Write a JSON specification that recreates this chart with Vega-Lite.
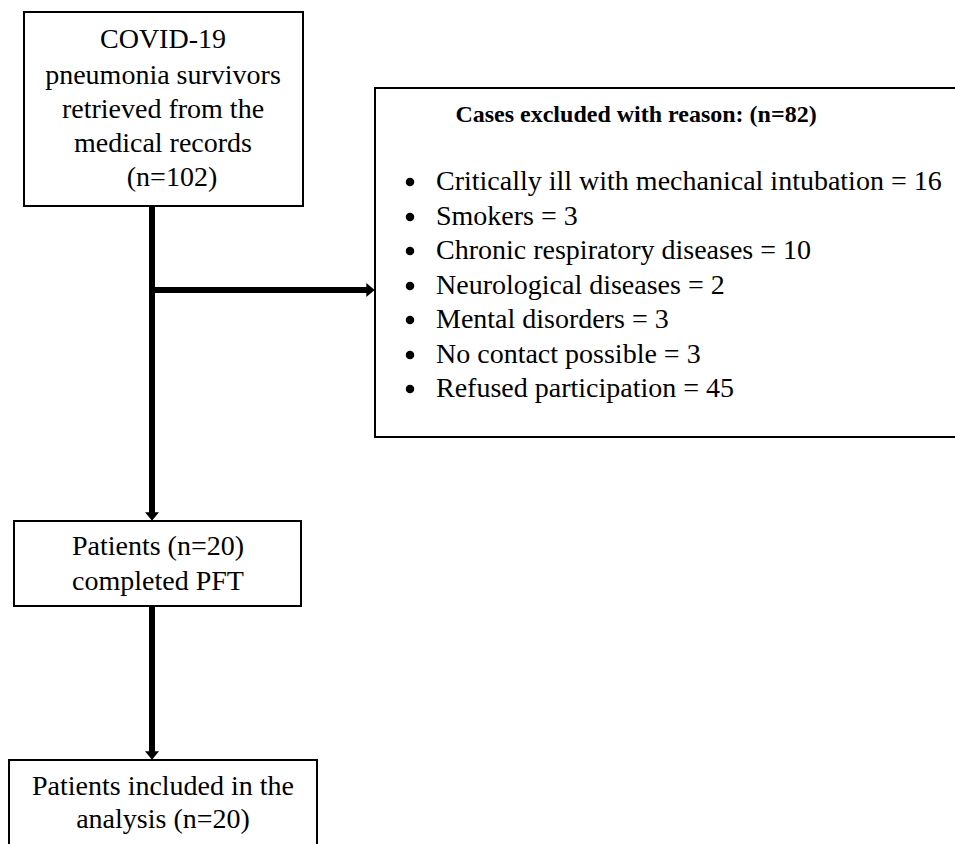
{
  "$schema": "https://vega.github.io/schema/vega-lite/v6.json",
  "width": 955,
  "height": 844,
  "padding": 0,
  "autosize": {"type": "fit", "contains": "padding"},
  "background": "white",
  "config": {"view": {"stroke": null}},
  "datasets": {
    "boxes": [
      {"id": "source", "x": 24, "x2": 303, "y": 12, "y2": 206},
      {"id": "excluded", "x": 375, "x2": 980, "y": 88, "y2": 437},
      {"id": "pft", "x": 14, "x2": 301, "y": 521, "y2": 606},
      {"id": "analysis", "x": 9, "x2": 317, "y": 760, "y2": 870}
    ],
    "lines": [
      {"x": 152, "y": 206, "x2": 152, "y2": 514},
      {"x": 152, "y": 290, "x2": 369, "y2": 290},
      {"x": 152, "y": 606, "x2": 152, "y2": 753}
    ],
    "heads_down": [
      {"x": 152, "y": 516.5},
      {"x": 152, "y": 755.5}
    ],
    "heads_right": [
      {"x": 370.5, "y": 290}
    ],
    "labels": [
      {"text": "COVID-19", "x": 163, "y": 40, "box": "source"},
      {"text": "pneumonia survivors", "x": 163, "y": 76, "box": "source"},
      {"text": "retrieved from the", "x": 163, "y": 110, "box": "source"},
      {"text": "medical records", "x": 163, "y": 144, "box": "source"},
      {"text": "(n=102)", "x": 172, "y": 178, "box": "source"},
      {"text": "Patients (n=20)", "x": 158, "y": 547, "box": "pft"},
      {"text": "completed PFT", "x": 158, "y": 582, "box": "pft"},
      {"text": "Patients included in the", "x": 163, "y": 787, "box": "analysis"},
      {"text": "analysis (n=20)", "x": 163, "y": 820, "box": "analysis"}
    ],
    "reasons": [
      {"text": "Critically ill with mechanical intubation = 16", "y": 182},
      {"text": "Smokers = 3", "y": 217},
      {"text": "Chronic respiratory diseases = 10", "y": 251},
      {"text": "Neurological diseases = 2", "y": 286},
      {"text": "Mental disorders = 3", "y": 320},
      {"text": "No contact possible = 3", "y": 355},
      {"text": "Refused participation = 45", "y": 389}
    ],
    "title": [
      {"text": "Cases excluded with reason: (n=82)", "x": 636, "y": 115}
    ]
  },
  "layer": [
    {
      "data": {"name": "boxes"},
      "mark": {"type": "rect", "fill": "white", "stroke": "black", "strokeWidth": 2, "clip": true},
      "encoding": {
        "x": {"field": "x", "type": "quantitative", "scale": {"domain": [0, 955], "nice": false, "zero": false}, "axis": null},
        "x2": {"field": "x2"},
        "y": {"field": "y", "type": "quantitative", "scale": {"domain": [0, 844], "nice": false, "zero": false, "reverse": true}, "axis": null},
        "y2": {"field": "y2"}
      }
    },
    {
      "data": {"name": "lines"},
      "mark": {"type": "rule", "color": "black", "strokeWidth": 6},
      "encoding": {
        "x": {"field": "x", "type": "quantitative"},
        "x2": {"field": "x2"},
        "y": {"field": "y", "type": "quantitative"},
        "y2": {"field": "y2"}
      }
    },
    {
      "data": {"name": "heads_down"},
      "mark": {"type": "point", "filled": true, "color": "black", "opacity": 1, "size": 196, "shape": "M -1 -0.6 L 1 -0.6 L 0 0.6 Z"},
      "encoding": {
        "x": {"field": "x", "type": "quantitative"},
        "y": {"field": "y", "type": "quantitative"}
      }
    },
    {
      "data": {"name": "heads_right"},
      "mark": {"type": "point", "filled": true, "color": "black", "opacity": 1, "size": 196, "shape": "M -0.6 -1 L 0.6 0 L -0.6 1 Z"},
      "encoding": {
        "x": {"field": "x", "type": "quantitative"},
        "y": {"field": "y", "type": "quantitative"}
      }
    },
    {
      "data": {"name": "labels"},
      "mark": {"type": "text", "font": "Liberation Serif", "fontSize": 28, "align": "center", "baseline": "middle", "color": "black"},
      "encoding": {
        "x": {"field": "x", "type": "quantitative"},
        "y": {"field": "y", "type": "quantitative"},
        "text": {"field": "text"}
      }
    },
    {
      "data": {"name": "title"},
      "mark": {"type": "text", "font": "Liberation Serif", "fontSize": 24, "fontWeight": "bold", "align": "center", "baseline": "middle", "color": "black"},
      "encoding": {
        "x": {"field": "x", "type": "quantitative"},
        "y": {"field": "y", "type": "quantitative"},
        "text": {"field": "text"}
      }
    },
    {
      "data": {"name": "reasons"},
      "mark": {"type": "text", "font": "Liberation Serif", "fontSize": 28, "align": "left", "baseline": "middle", "color": "black"},
      "encoding": {
        "x": {"datum": 436, "type": "quantitative"},
        "y": {"field": "y", "type": "quantitative"},
        "text": {"field": "text"}
      }
    },
    {
      "data": {"name": "reasons"},
      "mark": {"type": "point", "shape": "circle", "filled": true, "color": "black", "opacity": 1, "size": 72},
      "encoding": {
        "x": {"datum": 410, "type": "quantitative"},
        "y": {"field": "y", "type": "quantitative"}
      }
    }
  ]
}
